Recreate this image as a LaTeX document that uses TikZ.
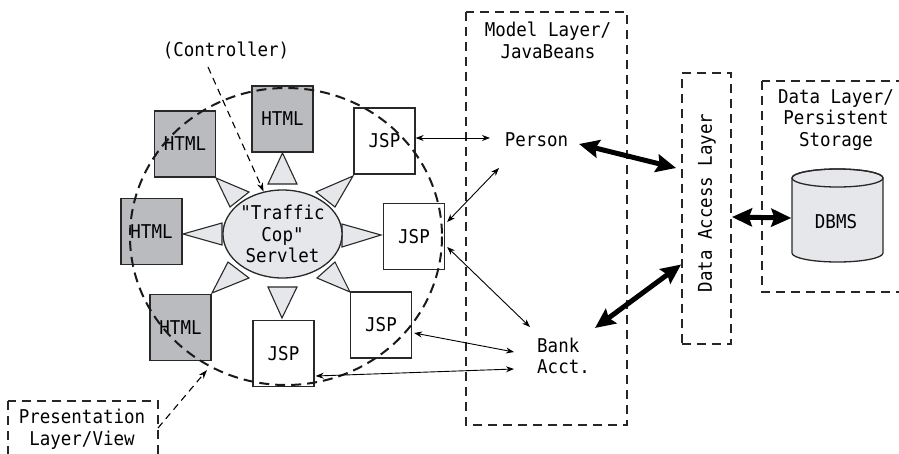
\documentclass[tikz,border=0pt]{standalone}
\usepackage{fontspec}
\setmainfont{DejaVu Sans Mono}[FakeStretch=0.92,Ligatures=TeXOff]
\usetikzlibrary{arrows.meta,shapes.geometric,calc}
\definecolor{htmlgray}{RGB}{185,187,190}
\definecolor{lightfill}{RGB}{230,231,234}
\definecolor{edge}{RGB}{40,40,40}
\begin{document}
\begin{tikzpicture}[x=1pt,y=-1pt,font=\fontsize{19}{21.5}\selectfont,
  htmlbox/.style={draw=edge,line width=1.3pt,fill=htmlgray,minimum width=61pt,minimum height=66pt,inner sep=0pt},
  jspbox/.style={draw=edge,line width=1.3pt,fill=white,minimum width=61pt,minimum height=66pt,inner sep=0pt},
  tri/.style={draw=edge,line width=1.1pt,fill=lightfill,line join=miter},
  layerbox/.style={draw=black!85,line width=1.8pt,dash pattern=on 9pt off 6pt},
  thinarrow/.style={line width=0.9pt,{Stealth[length=8pt,width=6pt]}-{Stealth[length=8pt,width=6pt]}},
  bigarrow/.style={line width=5pt,{Stealth[length=20pt,width=18pt,inset=3pt]}-{Stealth[length=20pt,width=18pt,inset=3pt]}},
  dasharrow/.style={line width=1.1pt,dash pattern=on 7pt off 5pt,-{Stealth[length=9pt,width=6pt]}},
  txt/.style={inner sep=3pt}]
\path[use as bounding box] (0,0) rectangle (899,453);
\clip (0,0) rectangle (899,453);

% layer boxes
\draw[layerbox] (466,12) rectangle (627,425);
\node[txt,align=center] (model) at (548,40.5) {Model Layer/\\JavaBeans};
\node[layerbox,minimum width=49pt,minimum height=271pt] (dal) at (706.5,208.5) {};
\node[rotate=90,inner sep=0pt] (daltext) at (707,203) {Data Access Layer};
\draw[layerbox] (762,81) rectangle (915,292);
\node[txt,align=center] (datalayer) at (836,120) {Data Layer/\\Persistent\\Storage};
\draw[layerbox] (8,401) rectangle (158,480);
\node[txt,align=center] (pres) at (82,429) {Presentation\\Layer/View};

% DBMS cylinder
\path[fill=lightfill,draw=edge,line width=1.3pt] (792,178) -- (792,253)
  arc[start angle=180,end angle=0,x radius=45.5,y radius=9] -- (883,178)
  arc[start angle=0,end angle=-180,x radius=45.5,y radius=9] -- cycle;
\draw[edge,line width=1.3pt] (837.5,178) ellipse [x radius=45.5,y radius=9];
\node[txt,minimum width=91pt] (dbms) at (836,222) {DBMS};

% model objects
\node[txt] (person) at (536.5,140) {Person};
\node[txt,align=left,anchor=west] (bank) at (534,356) {Bank\\Acct.};

% triangles
\path[tri] (282.5,153) -- (268,184) -- (297,184) -- cycle;
\path[tri] (183,234) -- (222,223) -- (222,245) -- cycle;
\path[tri] (381,235) -- (342,224) -- (342,247) -- cycle;
\path[tri] (282,318) -- (268,287) -- (297,287) -- cycle;
\path[tri] (216,178) -- (230,207) -- (249,192) -- cycle;
\path[tri] (353,176) -- (316,192) -- (335,207) -- cycle;
\path[tri] (212,293) -- (228,262) -- (249,278) -- cycle;
\path[tri] (350,292) -- (317,278) -- (335,262) -- cycle;

% boxes
\node[htmlbox] (h1) at (185,144) {HTML};
\node[htmlbox] (h2) at (282.5,119) {HTML};
\node[jspbox]  (j1) at (384.5,141) {JSP};
\node[htmlbox] (h3) at (151.5,231.5) {HTML};
\node[jspbox]  (j2) at (414,236.5) {JSP};
\node[htmlbox] (h4) at (180.5,327.5) {HTML};
\node[jspbox]  (j3) at (283.5,353.5) {JSP};
\node[jspbox]  (j4) at (381,325) {JSP};

% servlet
\node[ellipse,draw=edge,line width=1.3pt,fill=lightfill,minimum width=109pt,minimum height=88pt,inner sep=0pt,align=center] (srv) at (282.5,234) {"Traffic\\Cop"\\Servlet};

% dashed circle
\draw[black!90,line width=2pt,dash pattern=on 10pt off 6pt] (286,236.5) ellipse [x radius=156,y radius=148.5];

% controller
\node[txt] (ctrl) at (226,50) {(Controller)};
\coordinate (c0) at (208,67);
\draw[dasharrow] (c0) -- (srv);

% presentation arrow
\coordinate (p0) at (158,428);
\coordinate (p1) at (207,370);
\draw[dasharrow] (p0) -- (p1);

% thin arrows
\coordinate (pA) at (490,138);
\coordinate (pB) at (499,168);
\coordinate (bA) at (530,327);
\coordinate (bB) at (514,352);
\coordinate (bC) at (514,369);
\draw[thinarrow] ([yshift=3pt]j1.east) -- (pA);
\draw[thinarrow] ([shift={(2pt,14.5pt)}]j2.east) -- (pB);
\draw[thinarrow] ([shift={(2pt,-10.5pt)}]j2.east) -- (bA);
\draw[thinarrow] ([shift={(2pt,-8pt)}]j4.east) -- (bB);
\draw[thinarrow] ([shift={(1pt,-22.5pt)}]j3.east) -- (bC);

% thick arrows
\coordinate (pC) at (579,144);
\coordinate (bD) at (595,328);
\draw[bigarrow] (pC) -- ([shift={(-5pt,40.5pt)}]dal.west);
\draw[bigarrow] (bD) -- ([yshift=-56pt]dal.west);
\draw[bigarrow] ([yshift=-8.5pt]dal.east) -- ([shift={(1pt,4pt)}]dbms.west);
\end{tikzpicture}
\end{document}
